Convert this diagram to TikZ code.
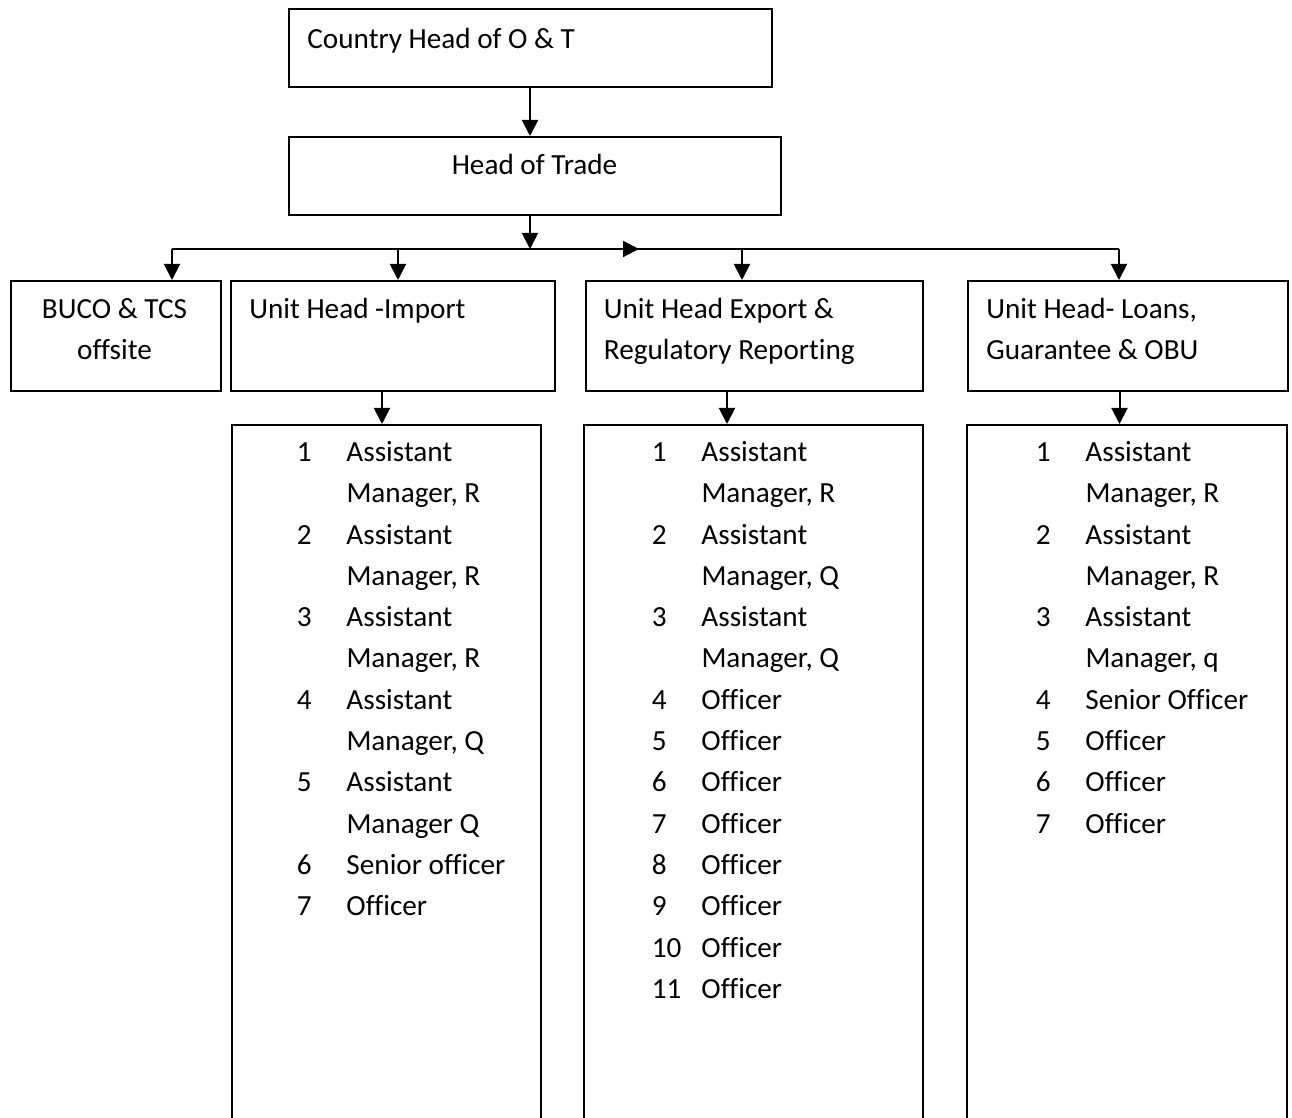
\documentclass[tikz,border=0pt]{standalone}
\usepackage{fontspec}
\setmainfont{Carlito}[Ligatures=NoCommon]
\usetikzlibrary{
    arrows.meta,
    positioning
}
\tikzset{
    % Box style
    orgbox/.style={
        rectangle,
        draw=black,
        line width=1pt,
        inner sep=0pt,
        anchor=north west
    },
    % Text style
    box text/.style={
        font=\fontsize{14.6pt}{20.65pt}\selectfont,
        text=black,
        inner sep=0pt
    },
    % Arrow styles
    flow/.style={
        -{Triangle[length=8pt, width=8pt]},
        line width=1pt,
        draw=black
    },
    plain line/.style={
        line width=1pt,
        draw=black
    }
}
\newcommand{\rolelist}[1]{\begin{tabular}[t]{@{}p{24.8pt}@{}l@{}}#1\end{tabular}}

\begin{document}
\begin{tikzpicture}[x=0.5pt, y=-0.5pt]
        \useasboundingbox (0,0) rectangle (1292,1118);
        \clip (0,0) rectangle (1292,1118);

        % Top of the chart
        \node[orgbox, minimum width=241.5pt, minimum height=39pt] (country) at (288,8) {};
        \node[box text, anchor=base west] (countrytext) at (307,49) {Country Head of O \& T};
        \node[orgbox, minimum width=246pt, minimum height=39pt] (trade) at (288,136) {};
        \node[box text, anchor=base] (tradetext) at (534.5,174.5) {Head of Trade};

        % Unit heads
        \node[orgbox, minimum width=105pt, minimum height=55pt] (buco) at (9.5,280) {};
        \node[box text, anchor=base] (bucotext) at (114.5,318.5) {\begin{tabular}[t]{@{}c@{}}BUCO \& TCS\\offsite\end{tabular}};
        \node[orgbox, minimum width=162pt, minimum height=55pt] (import) at (230,280) {};
        \node[box text, anchor=base west] (importtext) at (249,318.5) {Unit Head -Import};
        \node[orgbox, minimum width=168.75pt, minimum height=55pt] (export) at (584.5,280) {};
        \node[box text, anchor=base west] (exporttext) at (603.5,318.5) {\begin{tabular}[t]{@{}l@{}}Unit Head Export \&\\Regulatory Reporting\end{tabular}};
        \node[orgbox, minimum width=160pt, minimum height=55pt] (loans) at (967,280) {};
        \node[box text, anchor=base west] (loanstext) at (986,318.5) {\begin{tabular}[t]{@{}l@{}}Unit Head- Loans,\\Guarantee \& OBU\end{tabular}};

        % Staff lists (open at the bottom)
        \node[orgbox, minimum width=154.5pt, minimum height=360pt] (importlist) at (231,424) {};
        \node[box text, anchor=base west] (importstaff) at (296.5,461.5) {\rolelist{
            1 & Assistant\\ & Manager, R\\
            2 & Assistant\\ & Manager, R\\
            3 & Assistant\\ & Manager, R\\
            4 & Assistant\\ & Manager, Q\\
            5 & Assistant\\ & Manager Q\\
            6 & Senior officer\\
            7 & Officer}};
        \node[orgbox, minimum width=169.5pt, minimum height=360pt] (exportlist) at (583,424) {};
        \node[box text, anchor=base west] (exportstaff) at (651.5,461.5) {\rolelist{
            1 & Assistant\\ & Manager, R\\
            2 & Assistant\\ & Manager, Q\\
            3 & Assistant\\ & Manager, Q\\
            4 & Officer\\
            5 & Officer\\
            6 & Officer\\
            7 & Officer\\
            8 & Officer\\
            9 & Officer\\
            10 & Officer\\
            11 & Officer}};
        \node[orgbox, minimum width=160pt, minimum height=360pt] (loanslist) at (966,424) {};
        \node[box text, anchor=base west] (loansstaff) at (1035.5,461.5) {\rolelist{
            1 & Assistant\\ & Manager, R\\
            2 & Assistant\\ & Manager, R\\
            3 & Assistant\\ & Manager, q\\
            4 & Senior Officer\\
            5 & Officer\\
            6 & Officer\\
            7 & Officer}};

        % Branch points
        \coordinate (spine) at (530,249);
        \coordinate (mid) at (639,249);
        \coordinate (tobuco) at (172,249);
        \coordinate (toimport) at (398,249);
        \coordinate (toexport) at (742,249);
        \coordinate (toloans) at (1119,249);
        \coordinate (dropimport) at (382,407);
        \coordinate (dropexport) at (727,407);
        \coordinate (droploans) at (1119.5,407);

        % Connections
        \draw[flow] (country.south -| spine) -- (trade.north -| spine);
        \draw[flow] (trade.south -| spine) -- (spine);
        \draw[plain line] (tobuco) -- (toloans);
        \draw[flow] (spine) -- (mid);
        \foreach \from/\to in {tobuco/buco, toimport/import, toexport/export, toloans/loans}
            \draw[flow] (\from) -- (\from |- \to.north);
        \foreach \from/\to in {import/dropimport, export/dropexport, loans/droploans}
            \draw[flow] (\to |- \from.south) -- (\to |- \from list.north);

    \end{tikzpicture}
\end{document}
